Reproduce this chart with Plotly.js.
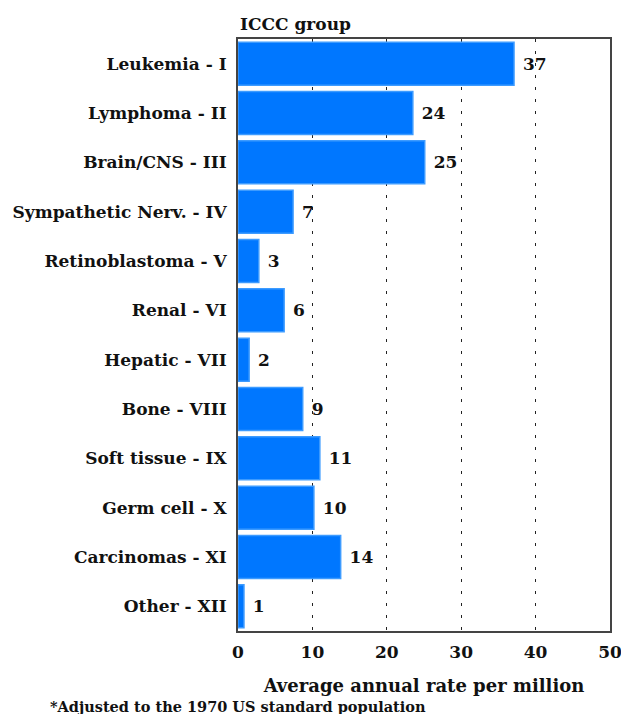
<!DOCTYPE html>
<html><head><meta charset="utf-8">
<script src="https://cdn.plot.ly/plotly-3.0.1.min.js"></script>
<style>html,body{margin:0;padding:0;background:#fff}</style>
</head><body>
<div id="chart" style="width:621px;height:714px"></div>
<script>
const categories = ["Leukemia - I","Lymphoma - II","Brain/CNS - III","Sympathetic Nerv. - IV","Retinoblastoma - V","Renal - VI","Hepatic - VII","Bone - VIII","Soft tissue - IX","Germ cell - X","Carcinomas - XI","Other - XII"];
const rates = [37.1, 23.5, 25.1, 7.4, 2.8, 6.2, 1.5, 8.7, 11.0, 10.2, 13.8, 0.8];
const rateLabels = ["37","24","25","7","3","6","2","9","11","10","14","1"];
const xTicks = [0,10,20,30,40,50];

const FONT = "DejaVu Serif";
const trace = {
  type: "bar", orientation: "h",
  y: categories, x: rates,
  text: rateLabels.map(s => " " + s),
  textposition: "outside",
  cliponaxis: false,
  textfont: {family: FONT, size: 17, color: "#111", weight: 700},
  marker: {color: "#0077ff", line: {color: "#3d9bff", width: 1.5}},
  hoverinfo: "none"
};
const layout = {
  width: 621, height: 714,
  margin: {l: 238, r: 11, t: 39, b: 83},
  paper_bgcolor: "#fff", plot_bgcolor: "#fff",
  bargap: 0.13,
  showlegend: false,
  font: {family: FONT, size: 17, color: "#111", weight: 700},
  xaxis: {
    range: [0, 50], tickvals: xTicks, ticktext: xTicks.map(String),
    ticklabeloverflow: "allow",
    showgrid: true, gridcolor: "#222", griddash: "3px,9px", gridwidth: 1,
    zeroline: false, showline: true, linecolor: "#444", linewidth: 2, mirror: true,
    ticks: "", ticklen: 0, ticklabelstandoff: 5,
    tickfont: {family: FONT, size: 17, weight: 700},
    title: {text: "Average annual rate per million", font: {family: FONT, size: 18, weight: 700}, standoff: 18}
  },
  yaxis: {
    categoryorder: "array", categoryarray: categories,
    autorange: "reversed",
    showgrid: false, zeroline: false, showline: true, linecolor: "#444", linewidth: 2, mirror: true,
    ticks: "", ticklen: 0, ticklabelstandoff: 6,
    tickfont: {family: FONT, size: 17, weight: 700}
  },
  annotations: [
    {text: "ICCC group", xref: "paper", yref: "paper", x: 0, y: 1, xanchor: "left", yanchor: "bottom", yshift: 3, showarrow: false, font: {family: FONT, size: 17, weight: 700}},
    {text: "*Adjusted to the 1970 US standard population", xref: "paper", yref: "paper", x: -0.51, y: 0, xanchor: "left", yanchor: "top", yshift: -65, showarrow: false, font: {family: FONT, size: 14.5, weight: 700}}
  ]
};
Plotly.newPlot("chart", [trace], layout, {displayModeBar: false, staticPlot: true});
</script>
</body></html>
